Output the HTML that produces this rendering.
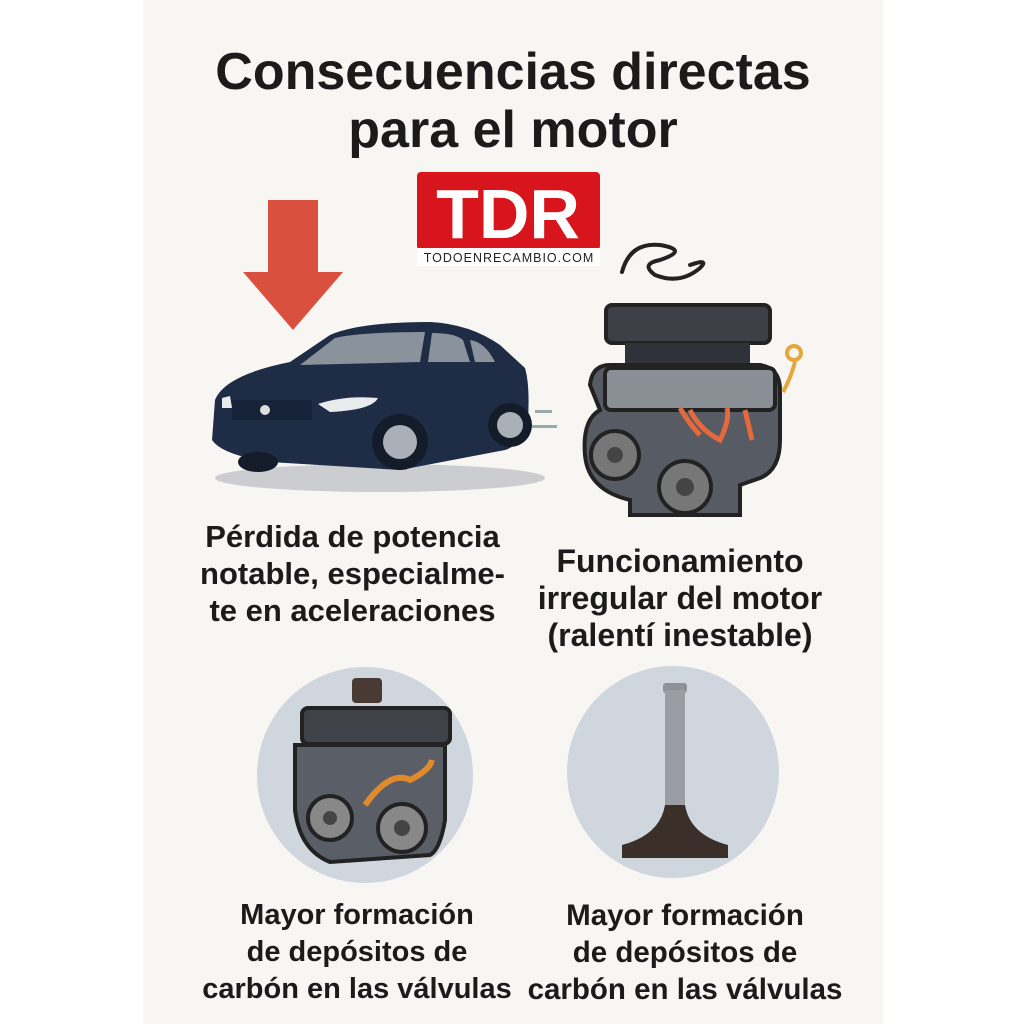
<!DOCTYPE html>
<html><head><meta charset="utf-8"><style>
html,body{margin:0;padding:0;width:1024px;height:1024px;background:#fff;overflow:hidden}
.panel{position:absolute;left:143px;top:0;width:740px;height:1024px;background:#f8f6f2}
.t{position:absolute;font-family:"Liberation Sans",sans-serif;font-weight:bold;color:#1b1b1b;text-align:center;white-space:nowrap}
</style></head><body>
<div class="panel"></div>
<svg style="position:absolute;left:0;top:0" width="1024" height="1024">
<rect x="417" y="172" width="183" height="78" rx="4" fill="#d8141c"/>
<rect x="417" y="248" width="183" height="18" fill="#fff"/>
<text x="508" y="238" text-anchor="middle" font-family="Liberation Sans,sans-serif" font-weight="bold" font-size="70" fill="#fff">TDR</text>
<text x="509" y="262" text-anchor="middle" font-family="Liberation Sans,sans-serif" font-size="12.5" letter-spacing="1" fill="#222">TODOENRECAMBIO.COM</text>
<polygon points="268,200 318,200 318,272 343,272 293,330 243,272 268,272" fill="#d9503e"/>
<ellipse cx="380" cy="478" rx="165" ry="14" fill="#aeb3ba" opacity=".6"/>
<path d="M215,400 Q225,375 290,362 L330,335 Q360,322 430,322 Q470,324 500,345 L525,368 Q530,385 528,420 Q522,445 505,450 L400,470 L270,462 Q222,455 212,440 Z" fill="#1e2d45"/>
<path d="M300,365 L335,338 Q360,332 425,332 L420,362 Z" fill="#8a929c"/>
<path d="M432,333 Q455,333 463,340 L470,362 L428,362 Z" fill="#8a929c"/>
<path d="M470,340 Q485,342 495,362 L475,362 Z" fill="#8a929c"/>
<path d="M318,404 Q345,395 378,398 Q372,410 330,412 Z" fill="#e8ebee"/>
<path d="M222,398 L230,396 L232,408 L222,408Z" fill="#e8ebee"/>
<rect x="232" y="400" width="80" height="20" fill="#152238"/>
<circle cx="265" cy="410" r="5" fill="#ddd"/>
<circle cx="400" cy="442" r="28" fill="#141c2a"/><circle cx="400" cy="442" r="17" fill="#a9b0b8"/>
<circle cx="510" cy="425" r="22" fill="#141c2a"/><circle cx="510" cy="425" r="13" fill="#a9b0b8"/>
<ellipse cx="258" cy="462" rx="20" ry="10" fill="#141c2a"/>
<rect x="535" y="410" width="17" height="3" fill="#9aa"/><rect x="532" y="425" width="25" height="3" fill="#9aa"/>
<path d="M622,272 Q630,242 660,245 Q690,250 660,260 Q640,264 655,275 Q680,285 700,268 Q710,258 690,265" fill="none" stroke="#222" stroke-width="4" stroke-linecap="round"/>
<rect x="606" y="305" width="164" height="38" rx="6" fill="#3d4047" stroke="#222" stroke-width="4"/>
<rect x="625" y="343" width="125" height="22" fill="#2f3238"/>
<path d="M590,385 Q592,365 610,365 L760,365 Q780,368 780,390 L780,440 Q780,470 760,478 L740,485 L740,515 L630,515 L630,500 Q588,490 585,455 Q582,420 600,410 Z" fill="#575b63" stroke="#222" stroke-width="4"/>
<rect x="605" y="368" width="170" height="42" rx="6" fill="#8a8e95" stroke="#222" stroke-width="4"/>
<path d="M690,410 Q700,430 720,440 Q730,420 727,408 M745,410 L752,440 M680,408 Q690,425 700,435" fill="none" stroke="#e4693c" stroke-width="5"/>
<path d="M783,392 Q790,380 795,362" fill="none" stroke="#e5a63a" stroke-width="4"/><circle cx="794" cy="353" r="7" fill="none" stroke="#e5a63a" stroke-width="4"/>
<circle cx="615" cy="455" r="24" fill="#777" stroke="#222" stroke-width="4"/><circle cx="615" cy="455" r="8" fill="#444"/>
<circle cx="685" cy="487" r="26" fill="#777" stroke="#222" stroke-width="4"/><circle cx="685" cy="487" r="9" fill="#444"/>
<circle cx="365" cy="775" r="108" fill="#cfd6dd"/>
<circle cx="673" cy="772" r="106" fill="#cfd6dd"/>
<rect x="352" y="678" width="30" height="25" rx="4" fill="#4a3a34"/>
<rect x="302" y="708" width="148" height="36" rx="6" fill="#3f4249" stroke="#222" stroke-width="4"/>
<path d="M295,745 L445,745 L445,820 Q440,850 430,855 L330,862 Q300,850 295,810 Z" fill="#5a5e66" stroke="#222" stroke-width="4"/>
<path d="M365,805 Q390,770 410,780 Q430,770 432,760" fill="none" stroke="#e08a2c" stroke-width="6"/>
<circle cx="330" cy="818" r="22" fill="#888" stroke="#222" stroke-width="4"/><circle cx="330" cy="818" r="7" fill="#444"/>
<circle cx="402" cy="828" r="24" fill="#888" stroke="#222" stroke-width="4"/><circle cx="402" cy="828" r="8" fill="#444"/>
<rect x="663" y="683" width="24" height="10" rx="3" fill="#8e9298"/>
<rect x="665" y="690" width="20" height="120" fill="#9a9ea4"/>
<path d="M665,805 Q660,835 622,845 L622,858 L728,858 L728,845 Q690,835 685,805 Z" fill="#3a2f29"/>
</svg>
<div class="t" style="left:143px;width:740px;top:43px;font-size:52px;line-height:58px">Consecuencias directas<br>para el motor</div>
<div class="t" style="left:150px;width:405px;top:518px;font-size:31px;line-height:37px">Pérdida de potencia<br>notable, especialme-<br>te en aceleraciones</div>
<div class="t" style="left:480px;width:400px;top:543px;font-size:32px;line-height:37px">Funcionamiento<br>irregular del motor<br>(ralentí inestable)</div>
<div class="t" style="left:167px;width:380px;top:897px;font-size:29px;line-height:37px">Mayor formación<br>de depósitos de<br>carbón en las válvulas</div>
<div class="t" style="left:515px;width:340px;top:897px;font-size:29.5px;line-height:37px">Mayor formación<br>de depósitos de<br>carbón en las válvulas</div>
</body></html>
